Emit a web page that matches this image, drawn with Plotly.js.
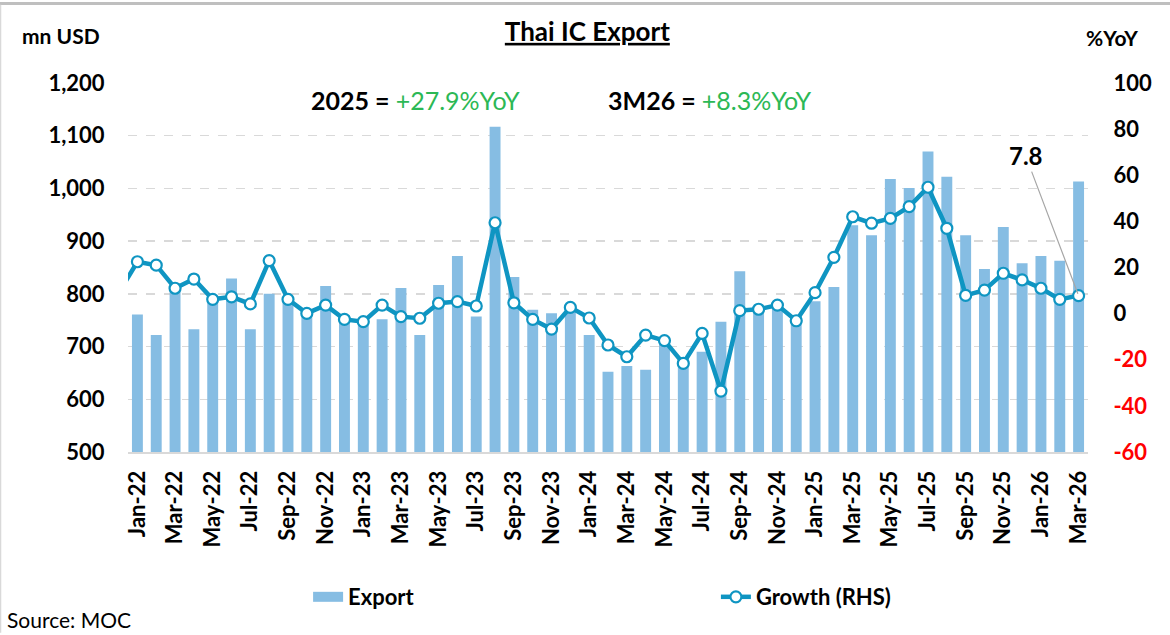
<!DOCTYPE html>
<html>
<head>
<meta charset="utf-8">
<script src="https://cdn.plot.ly/plotly-3.0.1.min.js"></script>
<style>html,body{margin:0;padding:0;background:#fff;}#chart{width:1170px;height:635px;}</style>
</head>
<body>
<div id="chart"></div>
<script>
// Months (Dec-21 only carries the growth value that enters from the left edge)
const months = ["Dec-21",
  "Jan-22","Feb-22","Mar-22","Apr-22","May-22","Jun-22","Jul-22","Aug-22","Sep-22","Oct-22","Nov-22","Dec-22",
  "Jan-23","Feb-23","Mar-23","Apr-23","May-23","Jun-23","Jul-23","Aug-23","Sep-23","Oct-23","Nov-23","Dec-23",
  "Jan-24","Feb-24","Mar-24","Apr-24","May-24","Jun-24","Jul-24","Aug-24","Sep-24","Oct-24","Nov-24","Dec-24",
  "Jan-25","Feb-25","Mar-25","Apr-25","May-25","Jun-25","Jul-25","Aug-25","Sep-25","Oct-25","Nov-25","Dec-25",
  "Jan-26","Feb-26","Mar-26"];
// Export, mn USD
const exportVals = [null,
  761,722,805,733,790,829,733,800,790,765,815,760,
  750,752,811,722,817,872,757,1117,832,770,763,770,
  722,652,663,656,705,680,690,747,843,770,780,760,
  786,813,930,911,1018,1001,1070,1022,911,847,927,858,
  872,863,1013];
// Growth, %YoY (RHS)
const growthVals = [9,
  22.5,21,11,15,6.2,7.3,4.2,23,6.2,0.1,3.7,-2.5,
  -3.5,3.7,-1.3,-2,4.5,5.2,3.3,39.4,4.7,-2.5,-6.7,2.7,
  -1.9,-13.6,-18.7,-9.3,-11.7,-21.6,-8.6,-33.6,1.3,1.9,3.7,-3.1,
  9.1,24.4,42,39.2,41.3,46.4,54.8,37,7.9,10.2,17.5,14.6,
  11,6.2,7.8];
const xTickLabels = ["Jan-22","Mar-22","May-22","Jul-22","Sep-22","Nov-22","Jan-23","Mar-23","May-23","Jul-23","Sep-23","Nov-23",
  "Jan-24","Mar-24","May-24","Jul-24","Sep-24","Nov-24","Jan-25","Mar-25","May-25","Jul-25","Sep-25","Nov-25","Jan-26","Mar-26"];
const leftTicks = [500,600,700,800,900,1000,1100,1200];
const rightTicks = [-60,-40,-20,0,20,40,60,80,100];
const title = "Thai IC Export";
const note2025 = {label:"2025", value:"+27.9%YoY"};
const note3M26 = {label:"3M26", value:"+8.3%YoY"};
const lastLabel = {x:"Mar-26", y:7.8, text:"7.8"};

const FONT = "Lato, 'Open Sans', sans-serif";
const BAR = "#86bde3", LINE = "#0f95c2", GREEN = "#2cb855", RED = "#ff0000";

const fmt = v => v.toLocaleString("en-US");
const rightText = rightTicks.map(v => v < 0 ? `<span style="color:${RED}">${v}</span>` : String(v));

const traces = [
  {type:"bar", name:"Export", x:months, y:exportVals, marker:{color:BAR}, yaxis:"y", showlegend:false},
  {type:"scatter", mode:"lines+markers", name:"Growth (RHS)", x:months, y:growthVals, yaxis:"y2",
   line:{color:LINE, width:4.5}, marker:{size:11, color:"#ffffff", line:{color:LINE, width:2.2}},
   cliponaxis:true, legend:"legend2"},
  // legend swatch for the bars (wide rectangle like the original)
  {type:"scatter", mode:"lines", name:"Export", x:[null], y:[null], line:{color:BAR, width:15}, legend:"legend", showlegend:true}
];

const legendFont = {size:22, family:FONT, weight:"bold"};
const layout = {
  width:1170, height:635,
  margin:{l:128, r:82, t:83, b:183, autoexpand:false},
  paper_bgcolor:"#fff", plot_bgcolor:"#fff",
  font:{family:FONT, color:"#000"},
  bargap:0.42,
  showlegend:true,
  title:{text:`<b><span style="text-decoration:underline">${title}</span></b>`, font:{size:26, family:FONT}, x:0.502, xref:"container", y:0.95, yref:"container", yanchor:"middle", xanchor:"center"},
  xaxis:{type:"category", categoryorder:"array", categoryarray:months, range:[0.5, months.length-0.5],
    tickmode:"array", tickvals:xTickLabels, ticktext:xTickLabels, tickangle:-90,
    tickfont:{size:22, family:FONT, weight:"bold"}, ticks:"outside", ticklen:8, tickcolor:"rgba(0,0,0,0)",
    showline:true, linecolor:"#d9d9d9", linewidth:2, showgrid:false, zeroline:false, fixedrange:true},
  yaxis:{range:[500,1200], tickmode:"array", tickvals:leftTicks, ticktext:leftTicks.map(fmt),
    tickfont:{size:22, family:FONT, weight:"bold"}, ticks:"outside", ticklen:18, tickcolor:"rgba(0,0,0,0)",
    showgrid:true, gridcolor:"#d9d9d9", gridwidth:1.5, griddash:"dash", zeroline:false, showline:false},
  yaxis2:{range:[-60,100], overlaying:"y", side:"right", tickmode:"array", tickvals:rightTicks, ticktext:rightText,
    tickfont:{size:22, family:FONT, weight:"bold"}, ticks:"outside", ticklen:20, tickcolor:"rgba(0,0,0,0)",
    showgrid:false, zeroline:false, showline:false},
  legend:{orientation:"h", x:0.1876, xanchor:"left", y:-0.393, yanchor:"middle", font:legendFont, bgcolor:"rgba(0,0,0,0)"},
  legend2:{orientation:"h", x:0.6124, xanchor:"left", y:-0.393, yanchor:"middle", font:legendFont, bgcolor:"rgba(0,0,0,0)"},
  annotations:[
    {xref:"paper", yref:"paper", x:-0.1125, y:1.13, xanchor:"left", yanchor:"middle", showarrow:false,
     text:"<b>mn USD</b>", font:{size:21, family:FONT}},
    {xref:"paper", yref:"paper", x:1.054, y:1.122, xanchor:"right", yanchor:"middle", showarrow:false,
     text:"<b>%YoY</b>", font:{size:21, family:FONT}},
    {xref:"paper", yref:"paper", x:0.299, y:0.954, xanchor:"center", yanchor:"middle", showarrow:false,
     text:`<b>${note2025.label} = </b><span style="color:${GREEN}">${note2025.value}</span>`, font:{size:25, family:FONT}},
    {xref:"paper", yref:"paper", x:0.606, y:0.954, xanchor:"center", yanchor:"middle", showarrow:false,
     text:`<b>${note3M26.label} = </b><span style="color:${GREEN}">${note3M26.value}</span>`, font:{size:25, family:FONT}},
    {xref:"x", yref:"y2", x:lastLabel.x, y:lastLabel.y, text:`<b>${lastLabel.text}</b>`, font:{size:24, family:FONT},
     showarrow:true, arrowhead:0, arrowwidth:1.2, arrowcolor:"#a6a6a6", ax:-53, ay:-140, standoff:2},
    {xref:"paper", yref:"paper", x:-0.128, y:-0.455, xanchor:"left", yanchor:"middle", showarrow:false,
     text:"Source: MOC", font:{size:21, family:FONT}}
  ],
  shapes:[
    {type:"line", xref:"paper", yref:"paper", x0:-0.134, x1:1.086, y0:1.2154, y1:1.2154, line:{color:"#bfbfbf", width:3}},
    {type:"line", xref:"paper", yref:"paper", x0:-0.1328, x1:-0.1328, y0:1.212, y1:-0.49, line:{color:"#d9d9d9", width:1.5}}
  ]
};

Plotly.newPlot("chart", traces, layout, {displayModeBar:false, staticPlot:true});
</script>
</body>
</html>
